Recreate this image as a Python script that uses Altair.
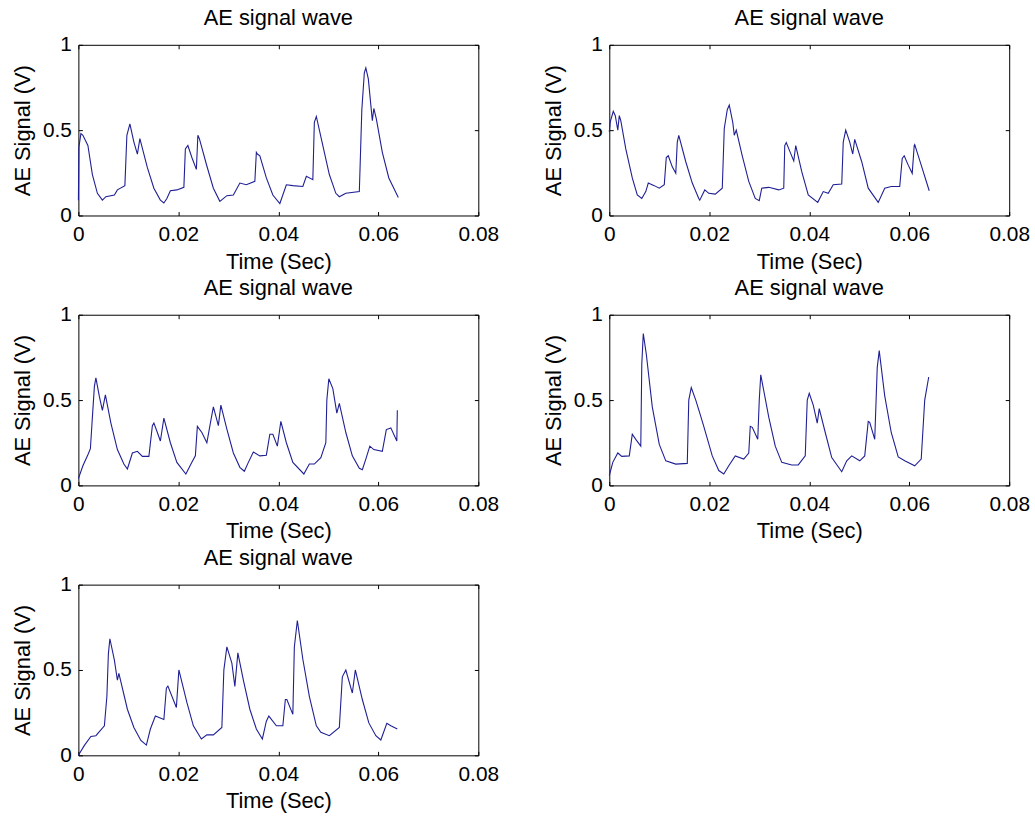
import altair as alt
import pandas as pd

# ---- data (time in seconds, signal in volts) ----
t1 = [0, 0.0001, 0.0005, 0.0009, 0.0019, 0.0028, 0.0038, 0.0048, 0.0055, 0.0072,
      0.0078, 0.0093, 0.0097, 0.0103, 0.0111, 0.0118, 0.0123, 0.0138, 0.0151, 0.0164,
      0.0171, 0.0177, 0.0184, 0.0197, 0.0211, 0.0214, 0.0219, 0.0227, 0.0236, 0.0239,
      0.0242, 0.0257, 0.0270, 0.0283, 0.0297, 0.0310, 0.0323, 0.0336, 0.0353, 0.0356,
      0.0358, 0.0363, 0.0376, 0.0389, 0.0403, 0.0416, 0.0429, 0.0449, 0.0456, 0.0469,
      0.0472, 0.0476, 0.0489, 0.0502, 0.0515, 0.0522, 0.0535, 0.0562, 0.0567, 0.0572,
      0.0575, 0.0580, 0.0588, 0.0591, 0.0596, 0.0608, 0.0621, 0.0640]
v1 = [0.09, 0.40, 0.48, 0.47, 0.41, 0.24, 0.13, 0.09, 0.11, 0.12,
      0.15, 0.175, 0.47, 0.537, 0.43, 0.36, 0.45, 0.28, 0.16, 0.09,
      0.073, 0.10, 0.145, 0.15, 0.165, 0.39, 0.41, 0.34, 0.27, 0.47,
      0.45, 0.29, 0.16, 0.083, 0.116, 0.12, 0.19, 0.18, 0.2, 0.37,
      0.36, 0.35, 0.22, 0.12, 0.07, 0.18, 0.175, 0.17, 0.23, 0.21,
      0.546, 0.58, 0.41, 0.24, 0.13, 0.11, 0.13, 0.14, 0.62, 0.836,
      0.865, 0.80, 0.556, 0.627, 0.566, 0.37, 0.22, 0.106]

t2 = [0, 0.0002, 0.0008, 0.0012, 0.0017, 0.0020, 0.0023, 0.0033, 0.0046, 0.0056,
      0.0065, 0.0073, 0.0078, 0.0090, 0.0100, 0.0110, 0.0114, 0.0118, 0.0126, 0.0133,
      0.0136, 0.0139, 0.0153, 0.0166, 0.0179, 0.0181, 0.0191, 0.0199, 0.0212, 0.0226,
      0.0230, 0.0236, 0.0240, 0.0247, 0.0250, 0.0254, 0.0266, 0.0279, 0.0292, 0.0300,
      0.0305, 0.0319, 0.0339, 0.0349, 0.0351, 0.0354, 0.0362, 0.0369, 0.0373, 0.0385,
      0.0398, 0.0417, 0.0428, 0.0438, 0.0448, 0.0465, 0.0468, 0.0473, 0.0481, 0.0487,
      0.0491, 0.0505, 0.0518, 0.0538, 0.0551, 0.0564, 0.0581, 0.0586, 0.0590, 0.0598,
      0.0606, 0.0610, 0.0611, 0.0624, 0.0640]
v2 = [0.49, 0.55, 0.61, 0.585, 0.50, 0.585, 0.556, 0.39, 0.22, 0.12,
      0.10, 0.14, 0.19, 0.175, 0.16, 0.18, 0.34, 0.35, 0.285, 0.247,
      0.43, 0.47, 0.315, 0.19, 0.10, 0.09, 0.15, 0.13, 0.125, 0.16,
      0.51, 0.62, 0.647, 0.546, 0.47, 0.50, 0.35, 0.2, 0.10, 0.087,
      0.16, 0.165, 0.15, 0.16, 0.41, 0.427, 0.37, 0.32, 0.41, 0.257,
      0.12, 0.077, 0.14, 0.13, 0.18, 0.185, 0.43, 0.50, 0.43, 0.36,
      0.446, 0.315, 0.16, 0.077, 0.16, 0.17, 0.17, 0.334, 0.35, 0.295,
      0.247, 0.41, 0.415, 0.295, 0.145]

t3 = [0, 0.0009, 0.0019, 0.0024, 0.0028, 0.0032, 0.0035, 0.0042, 0.0048, 0.0054,
      0.0065, 0.0078, 0.0091, 0.0098, 0.0108, 0.0118, 0.0128, 0.0141, 0.0148, 0.0151,
      0.0158, 0.0164, 0.0171, 0.0184, 0.0197, 0.0215, 0.0227, 0.0234, 0.0238, 0.0247,
      0.0257, 0.0264, 0.0270, 0.0280, 0.0285, 0.0297, 0.0310, 0.0323, 0.0332, 0.0340,
      0.0350, 0.0363, 0.0376, 0.0383, 0.0389, 0.0398, 0.0405, 0.0416, 0.0429, 0.0451,
      0.0462, 0.0472, 0.0485, 0.0495, 0.0497, 0.0501, 0.0509, 0.0517, 0.0522, 0.0535,
      0.0548, 0.0562, 0.0568, 0.0575, 0.0583, 0.0591, 0.0608, 0.0616, 0.0625, 0.0637,
      0.0638]
v3 = [0.04, 0.115, 0.18, 0.215, 0.40, 0.58, 0.63, 0.52, 0.44, 0.53,
      0.365, 0.21, 0.125, 0.096, 0.19, 0.2, 0.17, 0.17, 0.35, 0.365,
      0.31, 0.26, 0.394, 0.25, 0.135, 0.067, 0.135, 0.173, 0.346, 0.31,
      0.25, 0.365, 0.46, 0.35, 0.47, 0.33, 0.19, 0.106, 0.083, 0.135,
      0.196, 0.173, 0.177, 0.30, 0.30, 0.23, 0.375, 0.25, 0.135, 0.067,
      0.125, 0.125, 0.163, 0.25, 0.50, 0.625, 0.567, 0.423, 0.48, 0.31,
      0.173, 0.1, 0.092, 0.154, 0.23, 0.21, 0.2, 0.327, 0.337, 0.26,
      0.44]

t4 = [0, 0.0007, 0.0017, 0.0025, 0.0040, 0.0046, 0.0053, 0.0063, 0.0065, 0.0068,
      0.0074, 0.0086, 0.0100, 0.0113, 0.0133, 0.0156, 0.0159, 0.0164, 0.0173, 0.0183,
      0.0189, 0.0206, 0.0219, 0.0229, 0.0239, 0.0252, 0.0269, 0.0279, 0.0282, 0.0286,
      0.0297, 0.0300, 0.0303, 0.0319, 0.0332, 0.0345, 0.0365, 0.0378, 0.0392, 0.0396,
      0.0400, 0.0408, 0.0416, 0.0420, 0.0432, 0.0445, 0.0465, 0.0475, 0.0485, 0.0501,
      0.0511, 0.0518, 0.0521, 0.0531, 0.0536, 0.0540, 0.0551, 0.0564, 0.0578, 0.0591,
      0.0611, 0.0624, 0.0631, 0.0639]
v4 = [0.058, 0.135, 0.19, 0.17, 0.173, 0.30, 0.27, 0.23, 0.71, 0.89,
      0.77, 0.46, 0.24, 0.144, 0.125, 0.129, 0.50, 0.573, 0.50, 0.404,
      0.346, 0.173, 0.087, 0.067, 0.115, 0.173, 0.154, 0.19, 0.346, 0.34,
      0.27, 0.50, 0.648, 0.40, 0.23, 0.135, 0.12, 0.12, 0.173, 0.50,
      0.54, 0.47, 0.365, 0.45, 0.31, 0.163, 0.08, 0.144, 0.173, 0.144,
      0.173, 0.375, 0.37, 0.27, 0.69, 0.79, 0.525, 0.31, 0.167, 0.144,
      0.115, 0.154, 0.50, 0.635]

t5 = [0, 0.0012, 0.0025, 0.0035, 0.0052, 0.0057, 0.0060, 0.0063, 0.0072, 0.0078,
      0.0081, 0.0098, 0.0111, 0.0125, 0.0136, 0.0144, 0.0154, 0.0171, 0.0176, 0.0179,
      0.0196, 0.0201, 0.0217, 0.0230, 0.0246, 0.0257, 0.0270, 0.0287, 0.0291, 0.0297,
      0.0307, 0.0313, 0.0319, 0.0330, 0.0343, 0.0356, 0.0368, 0.0376, 0.0381, 0.0396,
      0.0409, 0.0414, 0.0417, 0.0429, 0.0432, 0.0438, 0.0449, 0.0462, 0.0476, 0.0485,
      0.0502, 0.0522, 0.0528, 0.0535, 0.0548, 0.0554, 0.0568, 0.0581, 0.0595, 0.0605,
      0.0617, 0.0625, 0.0638]
v5 = [0, 0.058, 0.11, 0.115, 0.173, 0.346, 0.596, 0.683, 0.558, 0.44,
      0.48, 0.27, 0.163, 0.087, 0.06, 0.154, 0.23, 0.21, 0.394, 0.406,
      0.28, 0.50, 0.31, 0.173, 0.096, 0.12, 0.12, 0.163, 0.50, 0.635,
      0.54, 0.404, 0.60, 0.44, 0.27, 0.154, 0.096, 0.2, 0.23, 0.173,
      0.173, 0.327, 0.327, 0.24, 0.635, 0.79, 0.563, 0.346, 0.173, 0.135,
      0.115, 0.163, 0.46, 0.50, 0.365, 0.50, 0.327, 0.19, 0.115, 0.09,
      0.188, 0.173, 0.154]

x_ticks = [0, 0.02, 0.04, 0.06, 0.08]
y_ticks = [0, 0.5, 1]
panel_title = "AE signal wave"
x_title = "Time (Sec)"
y_title = "AE Signal (V)"

LINE = "#1f1f94"
FONT = "Liberation Sans"
W, H = 403, 172
TICK = 4


def panel(t, v):
    assert len(t) == len(v)
    df = pd.DataFrame({"t": t, "v": v})
    xs = alt.Scale(domain=[0, 0.08], nice=False, zero=False)
    ys = alt.Scale(domain=[0, 1], nice=False, zero=False)
    line = alt.Chart(df).mark_line(color=LINE, strokeWidth=1.1).encode(
        x=alt.X("t:Q", scale=xs, axis=alt.Axis(
            orient="bottom", values=x_ticks, format="~g", title=x_title,
            offset=-TICK, tickSize=TICK, labelPadding=8, titlePadding=7,
            labelFlush=False, labelOverlap=False,
            domain=False, grid=False)),
        y=alt.Y("v:Q", scale=ys, axis=alt.Axis(
            orient="left", values=y_ticks, format="~g", title=y_title,
            offset=-TICK, tickSize=TICK, labelPadding=7, titlePadding=8,
            labelFlush=False, labelOverlap=False,
            domain=False, grid=False)),
    )
    frame = alt.Chart(df).mark_line(opacity=0).encode(
        x=alt.X("t:Q", scale=xs, axis=alt.Axis(
            orient="top", values=x_ticks, labels=False, title=None,
            offset=-TICK, tickSize=TICK, domain=False, grid=False)),
        y=alt.Y("v:Q", scale=ys, axis=alt.Axis(
            orient="right", values=y_ticks, labels=False, title=None,
            offset=-TICK, tickSize=TICK, domain=False, grid=False)),
    )
    return alt.layer(line, frame).resolve_axis(
        x="independent", y="independent"
    ).properties(
        width=W, height=H,
        title=alt.TitleParams(panel_title, anchor="middle", frame="group",
                              offset=4, fontSize=22, fontWeight="normal",
                              font=FONT, color="black"),
    )


row1 = alt.hconcat(panel(t1, v1), panel(t2, v2), spacing=43)
row2 = alt.hconcat(panel(t3, v3), panel(t4, v4), spacing=43)
row3 = panel(t5, v5)

chart = alt.vconcat(row1, row2, row3, spacing=3).properties(
    padding={"left": 11, "top": 3, "right": 5, "bottom": 2},
    background="white",
).configure_view(
    stroke="black", strokeWidth=1
).configure_axis(
    labelFont=FONT, titleFont=FONT, labelFontSize=21, titleFontSize=22,
    labelColor="black", titleColor="black", titleFontWeight="normal",
    tickColor="black", tickWidth=1,
)

chart.save("out.html", embed_options={"renderer": "svg", "actions": False})
